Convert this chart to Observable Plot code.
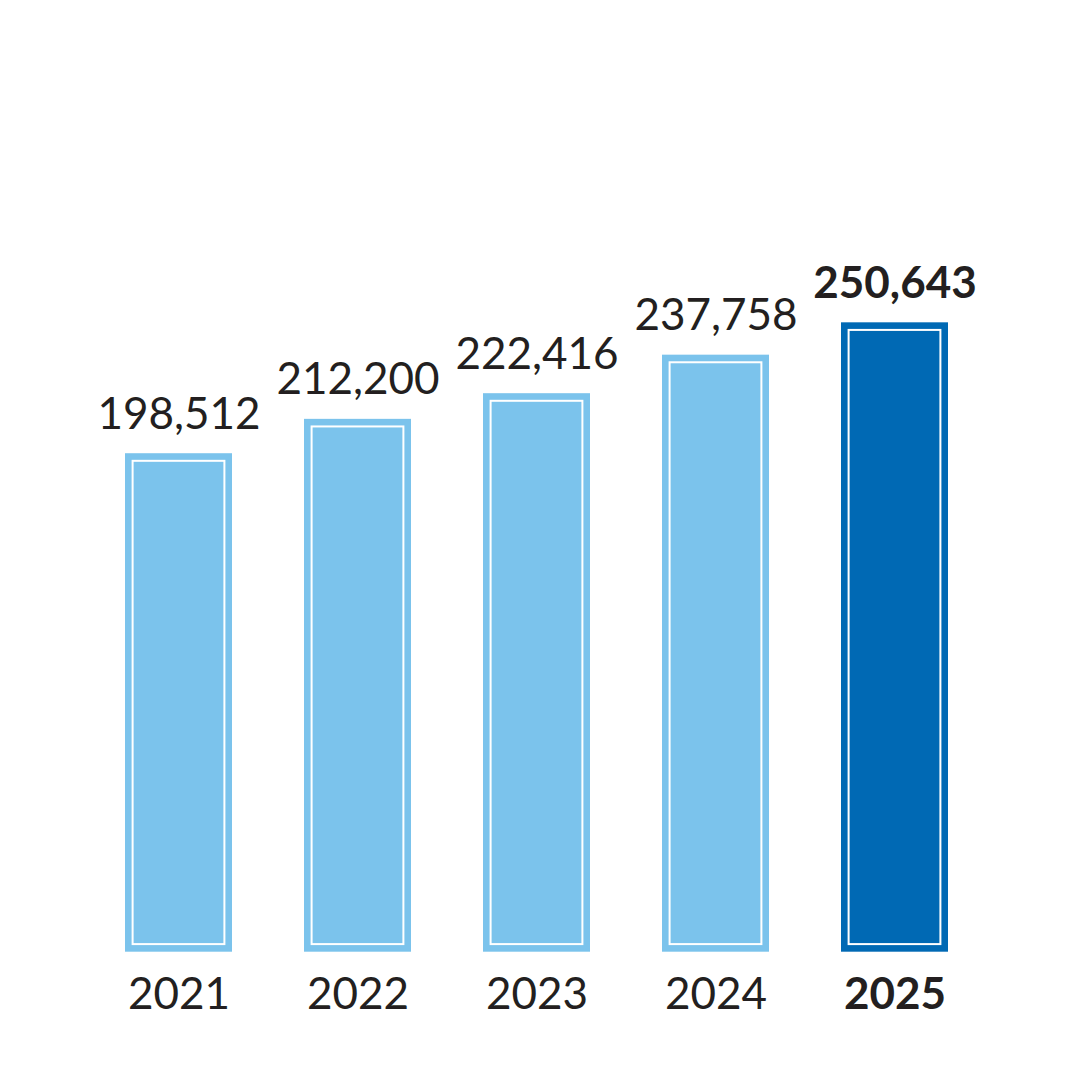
<!DOCTYPE html>
<html>
<head>
<meta charset="utf-8">
<script src="https://cdn.jsdelivr.net/npm/d3@7"></script>
<script src="https://cdn.jsdelivr.net/npm/@observablehq/plot@0.6"></script>
<style>
  html, body { margin: 0; padding: 0; background: #ffffff; }
  #chart { width: 1080px; height: 1080px; }
</style>
</head>
<body>
<div id="chart"></div>
<script>
const years = ["2021", "2022", "2023", "2024", "2025"];
const values = [198512, 212200, 222416, 237758, 250643];
const highlightYear = "2025";

const data = years.map((year, i) => ({ year, value: values[i], hl: year === highlightYear }));
const fmt = d3.format(",");

const lightBlue = "#7bc3ec";
const darkBlue = "#0069b4";
const ink = "#231f20";

const chart = Plot.plot({
  width: 1080,
  height: 1080,
  margin: 0,
  style: { fontFamily: "Lato, 'Noto Sans', sans-serif", background: "#ffffff", overflow: "visible" },
  x: { type: "band", domain: years, range: [87.85, 985.45], paddingInner: 0.4, paddingOuter: 0.2, axis: null },
  y: { domain: [0, 379000], range: [951.7, 0], axis: null },
  marks: [
    Plot.barY(data, { x: "year", y: "value", fill: d => d.hl ? darkBlue : lightBlue }),
    Plot.barY(data, { x: "year", y: "value", fill: "none", stroke: "#ffffff", strokeWidth: 2, inset: 7.6 }),
    Plot.text(data.filter(d => !d.hl), { x: "year", y: "value", text: d => fmt(d.value), lineAnchor: "bottom", dy: -25, fontSize: 44, fill: ink }),
    Plot.text(data.filter(d => d.hl), { x: "year", y: "value", text: d => fmt(d.value), lineAnchor: "bottom", dy: -25, fontSize: 44, fontWeight: "bold", fill: ink }),
    Plot.text(data.filter(d => !d.hl), { x: "year", y: 0, text: "year", lineAnchor: "bottom", dy: 57, fontSize: 44, fill: ink }),
    Plot.text(data.filter(d => d.hl), { x: "year", y: 0, text: "year", lineAnchor: "bottom", dy: 57, fontSize: 44, fontWeight: "bold", fill: ink })
  ]
});
document.getElementById("chart").appendChild(chart);
</script>
</body>
</html>
